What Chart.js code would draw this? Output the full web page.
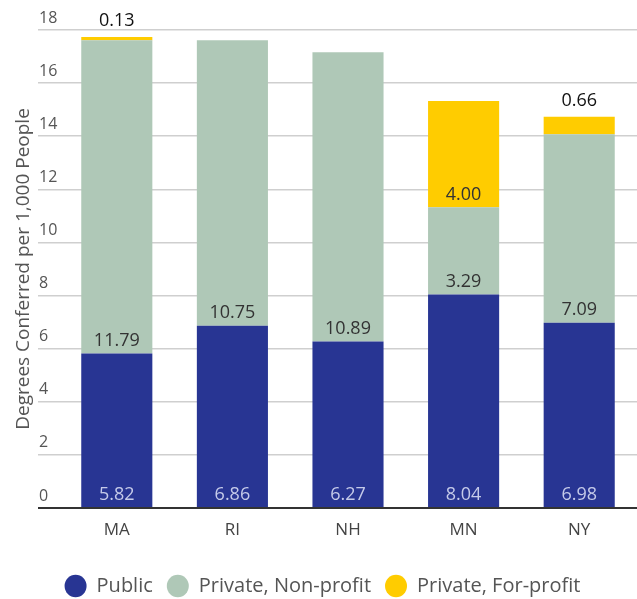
<!DOCTYPE html>
<html>
<head>
<meta charset="utf-8">
<script src="https://cdn.jsdelivr.net/npm/chart.js@4"></script>
<style>
  html, body { margin: 0; padding: 0; background: #fff; }
  #wrap { width: 637px; height: 599px; }
</style>
</head>
<body>
<div id="wrap"><canvas id="degreesChart"></canvas></div>
<script>
// Degrees conferred per 1,000 people, by sector
const states     = ['MA', 'RI', 'NH', 'MN', 'NY'];
const publicVals = [5.82, 6.86, 6.27, 8.04, 6.98];
const nonProfit  = [11.79, 10.75, 10.89, 3.29, 7.09];
const forProfit  = [0.13, 0, 0, 4.00, 0.66];

const FONT = 'Open Sans';

// draws the value labels on each segment
const segmentLabels = {
  id: 'segmentLabels',
  afterDatasetsDraw(chart) {
    const ctx = chart.ctx;
    ctx.save();
    ctx.font = '18px "' + FONT + '"';
    ctx.textAlign = 'center';
    ctx.textBaseline = 'middle';
    chart.data.datasets.forEach((ds, di) => {
      const meta = chart.getDatasetMeta(di);
      meta.data.forEach((bar, i) => {
        const v = ds.data[i];
        if (!v) return;
        const h = bar.base - bar.y;
        let y = bar.base - 12;
        let color = '#333';
        if (di === 0) color = '#c5cae9';
        if (di === 1) y = bar.base - 13;
        if (di === 2 && h < 30) { y = bar.y - 16; color = '#111'; }
        ctx.fillStyle = color;
        ctx.fillText(v.toFixed(2), bar.x, y);
      });
    });
    ctx.restore();
  }
};

new Chart(document.getElementById('degreesChart'), {
  type: 'bar',
  data: {
    labels: states,
    datasets: [
      { label: 'Public',               data: publicVals, backgroundColor: '#283593' },
      { label: 'Private, Non-profit',  data: nonProfit,  backgroundColor: '#afc8b7' },
      { label: 'Private, For-profit',  data: forProfit,  backgroundColor: '#ffcc00' }
    ]
  },
  options: {
    responsive: true,
    maintainAspectRatio: false,
    animation: false,
    layout: { padding: { top: 30, left: 8, right: 0, bottom: -7 } },
    datasets: { bar: { categoryPercentage: 1, barPercentage: 0.615, borderWidth: 0 } },
    plugins: {
      tooltip: { enabled: false },
      legend: {
        position: 'bottom',
        labels: {
          usePointStyle: true,
          pointStyle: 'circle',
          boxHeight: 16,
          pointStyleWidth: 22,
          padding: 14,
          color: '#555',
          font: { family: FONT, size: 20 }
        }
      }
    },
    scales: {
      x: {
        stacked: true,
        z: 1,
        grid: { display: false },
        border: { display: true, color: '#333', width: 2 },
        ticks: { color: '#444', padding: 4, font: { family: FONT, size: 17 } },
        afterFit(scale) { scale.height = 54; }
      },
      y: {
        stacked: true,
        min: 0,
        max: 18,
        border: { display: false },
        grid: {
          color: ctx => ctx.tick && ctx.tick.value === 0 ? '#333' : '#cfcfcf',
          lineWidth: ctx => ctx.tick && ctx.tick.value === 0 ? 2 : 1.5,
          drawTicks: true,
          tickLength: 21
        },
        ticks: {
          stepSize: 2,
          mirror: true,
          padding: -20,
          labelOffset: -12,
          color: '#555',
          font: { family: FONT, size: 16 }
        },
        title: {
          display: true,
          text: 'Degrees Conferred per 1,000 People',
          color: '#555',
          font: { family: FONT, size: 19 }
        },
        afterFit(scale) { scale.width = 51; }
      }
    }
  },
  plugins: [segmentLabels]
});
</script>
</body>
</html>
